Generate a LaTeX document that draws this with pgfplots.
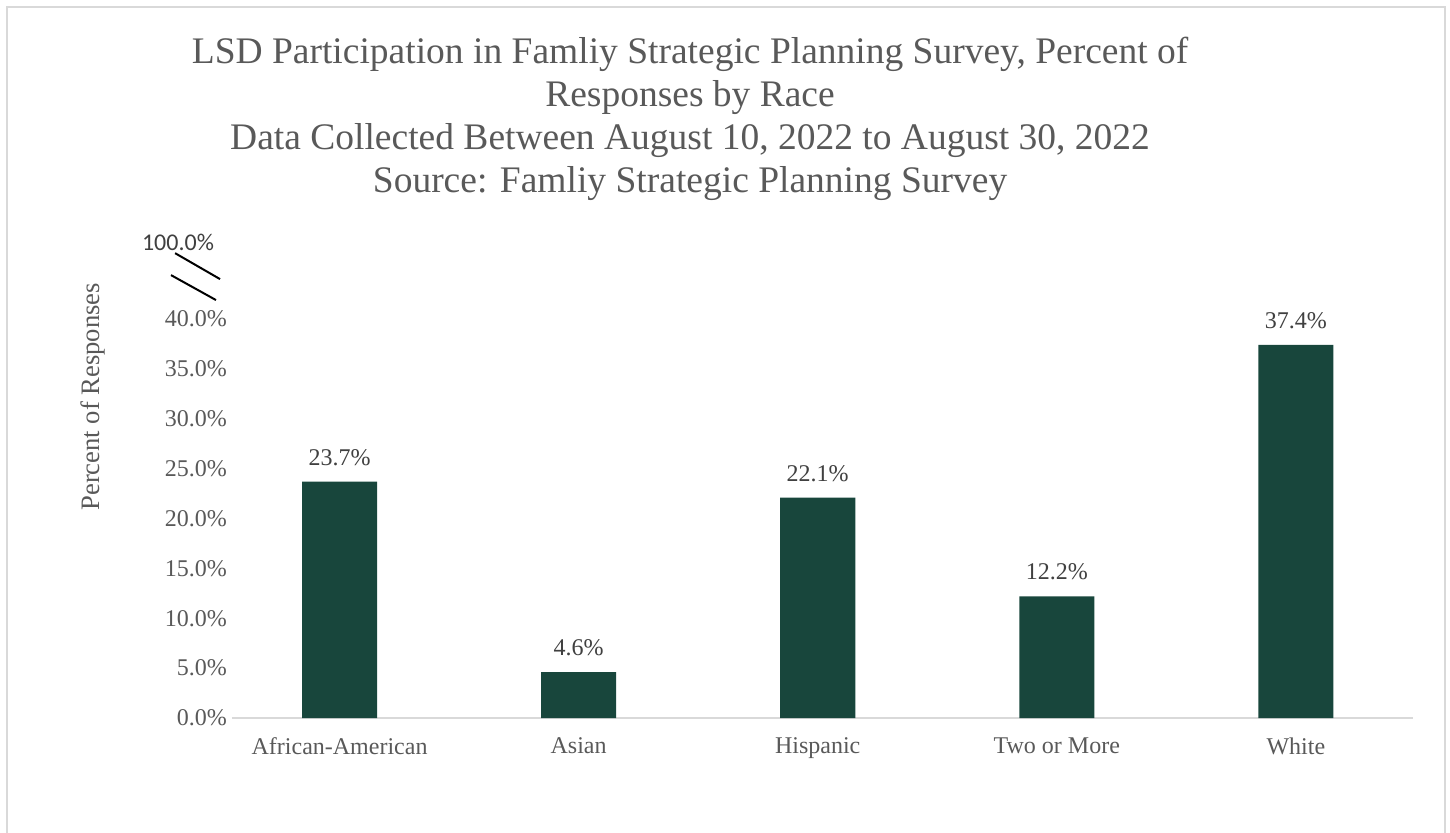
\documentclass[border=0pt]{standalone}
\usepackage{fontspec}
\setmainfont{Liberation Serif}
\newfontfamily\calibri{Carlito}
\usepackage{pgfplots}
\pgfplotsset{compat=1.18}
\definecolor{barGreen}{RGB}{24,70,60}
\definecolor{txtGray}{RGB}{89,89,89}
\definecolor{lblGray}{RGB}{64,64,64}
\definecolor{frameGray}{RGB}{217,217,217}

\begin{document}
\begin{tikzpicture}
\useasboundingbox (-116bp,-57.5bp) rectangle (609bp,359bp);
% chart frame (bottom edge runs off the page)
\draw[frameGray, line width=1.2bp] (-112.5bp,-60bp) -- (-112.5bp,355.5bp) -- (606.5bp,355.5bp) -- (606.5bp,-60bp);

\begin{axis}[
    scale only axis,
    width=590.5bp, height=199.5bp,
    xmin=-0.45, xmax=4.49,
    ymin=0, ymax=40,
    axis x line*=bottom,
    axis y line*=left,
    x axis line style={draw=frameGray, line width=0.8bp},
    y axis line style={draw=none},
    major tick length=0pt,
    xtick=data,
    xticklabels={African-American, Asian, Hispanic, Two or More, White},
    ytick={0,5,...,40},
    yticklabel={\pgfmathprintnumber[fixed,fixed zerofill,precision=1]{\tick}\%},
    /pgf/number format/assume math mode=true,
    tick label style={font=\fontsize{12bp}{14bp}\selectfont, text=txtGray},
    xticklabel style={yshift=-6.5bp},
    yticklabel style={xshift=1bp},
    ylabel={Percent of Responses},
    ylabel style={at={(axis description cs:-0.1177,0.805)}, anchor=center,
                  font=\fontsize{13.3bp}{15bp}\selectfont, text=txtGray},
    ybar, bar width=0.314,
    nodes near coords={\pgfmathprintnumber[fixed,fixed zerofill,precision=1]{\pgfplotspointmeta}\%},
    nodes near coords style={font=\fontsize{12bp}{14bp}\selectfont, text=lblGray, yshift=4.5bp},
    clip=false,
]
\addplot[fill=barGreen, draw=none] coordinates {
    (0,23.7) (1,4.6) (2,22.1) (3,12.2) (4,37.4)
};

% axis break and the 100% label
\node[font=\calibri\fontsize{12bp}{14bp}\selectfont, text=lblGray] at (axis cs:-0.676,47.7) {100.0\%};
\draw[black, line width=1bp] (axis cs:-0.688,46.6) -- (axis cs:-0.50,44.0);
\draw[black, line width=1bp] (axis cs:-0.705,44.4) -- (axis cs:-0.517,41.9);

% title
\node[align=center, text=txtGray, font=\fontsize{18.75bp}{21.5bp}\selectfont]
  at (axis cs:1.466,60.1) {LSD Participation in Famliy Strategic Planning Survey, Percent of\\
  Responses by Race\\
  Data Collected Between August 10, 2022 to August 30, 2022\\
  Source: Famliy Strategic Planning Survey};
\end{axis}
\end{tikzpicture}
\end{document}
